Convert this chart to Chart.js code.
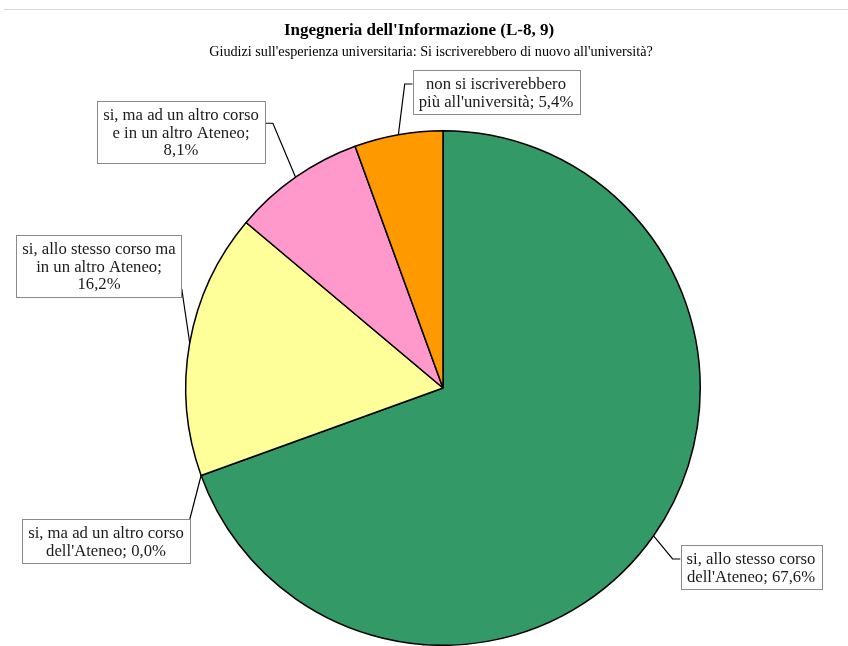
<!DOCTYPE html>
<html>
<head>
<meta charset="utf-8">
<script src="https://cdn.jsdelivr.net/npm/chart.js@4.4.0/dist/chart.umd.min.js"></script>
<style>
  html, body { margin: 0; padding: 0; background: #fff; }
  #wrap { width: 848px; height: 646px; position: relative; }
</style>
</head>
<body>
<div id="wrap"><canvas id="myChart" width="848" height="646"></canvas></div>
<script>
// chart data
const titleText = "Ingegneria dell'Informazione (L-8, 9)";
const subtitleText = "Giudizi sull'esperienza universitaria: Si iscriverebbero di nuovo all'università?";
const categories = [
  ["si, allo stesso corso", "dell'Ateneo;"],
  ["si, ma ad un altro corso", "dell'Ateneo;"],
  ["si, allo stesso corso ma", "in un altro Ateneo;"],
  ["si, ma ad un altro corso", "e in un altro Ateneo;"],
  ["non si iscriverebbero", "più all'università;"]
];
const percentages = [67.6, 0.0, 16.2, 8.1, 5.4];
const sliceColors = ["#339966", "#3366ff", "#ffff99", "#ff99cc", "#ff9900"];

// where each label box sits (center) and how the leader reaches it
const labelLayout = [
  { cx: 751, cy: 567, side: "left", elbow: 8 },
  { cx: 106, cy: 541, side: "topright", elbow: 0 },
  { cx: 99, cy: 266, side: "right-bottom", elbow: 0 },
  { cx: 181, cy: 132, side: "right", elbow: 8 },
  { cx: 496, cy: 92, side: "left", elbow: 8 }
];

function fmt(v) {
  return v.toFixed(1).replace(".", ",") + "%";
}

// build the text lines for one label (joins value to last line when it fits, like Excel)
function labelLines(i) {
  const lines = categories[i].slice();
  if (i === 2 || i === 3) {
    lines.push(fmt(percentages[i]));
  } else {
    lines[lines.length - 1] = lines[lines.length - 1] + " " + fmt(percentages[i]);
  }
  return lines;
}

const labelPlugin = {
  id: "boxLabels",
  afterDraw(chart) {
    const ctx = chart.ctx;
    ctx.save();

    // titles
    ctx.fillStyle = "#000";
    ctx.textAlign = "center";
    ctx.textBaseline = "middle";
    ctx.font = "bold 17px 'Liberation Serif'";
    ctx.fillText(titleText, 419, 31);
    ctx.font = "14.2px 'Liberation Serif'";
    ctx.fillText(subtitleText, 431, 52);

    // top separator line of the page
    ctx.strokeStyle = "#d8d8d8";
    ctx.lineWidth = 1;
    ctx.beginPath();
    ctx.moveTo(4, 9.5);
    ctx.lineTo(848, 9.5);
    ctx.stroke();

    const arcs = chart.getDatasetMeta(0).data;
    const lineH = 17.5;
    ctx.font = "16.7px 'Liberation Serif'";
    arcs.forEach((arc, i) => {
      const p = arc.getProps(["x", "y", "startAngle", "endAngle", "outerRadius"], true);
      const mid = (p.startAngle + p.endAngle) / 2;
      const ax = p.x + Math.cos(mid) * p.outerRadius;
      const ay = p.y + Math.sin(mid) * p.outerRadius;

      const lines = labelLines(i);
      const w = Math.max(...lines.map(l => ctx.measureText(l).width)) + 12;
      const h = lines.length * lineH + 9;
      const L = labelLayout[i];
      const bx = L.cx - w / 2, by = L.cy - h / 2;

      // leader line
      let tx, ty;
      if (L.side === "left") { tx = bx; ty = L.cy - 8; }
      else if (L.side === "right") { tx = bx + w; ty = by + 22; }
      else if (L.side === "topright") { tx = bx + w; ty = by; }
      else { tx = bx + w; ty = by + h - 8; }
      ctx.strokeStyle = "#000";
      ctx.lineWidth = 1.2;
      ctx.beginPath();
      ctx.moveTo(ax, ay);
      if (L.elbow) {
        const ex = L.side === "left" ? tx - L.elbow : tx + L.elbow;
        ctx.lineTo(ex, ty);
      }
      ctx.lineTo(tx, ty);
      ctx.stroke();

      // box
      ctx.fillStyle = "#fff";
      ctx.fillRect(bx, by, w, h);
      ctx.strokeStyle = "#8a8a8a";
      ctx.lineWidth = 1;
      ctx.strokeRect(Math.round(bx) + 0.5, Math.round(by) + 0.5, Math.round(w), Math.round(h));

      ctx.fillStyle = "#1a1a1a";
      ctx.textAlign = "center";
      ctx.textBaseline = "middle";
      lines.forEach((l, k) => {
        ctx.fillText(l, L.cx, by + 5 + lineH * (k + 0.5) + 1);
      });
    });
    ctx.restore();
  }
};

const ctx = document.getElementById("myChart").getContext("2d");
const myChart = new Chart(ctx, {
  type: "pie",
  data: {
    labels: categories.map(c => c.join(" ")),
    datasets: [{
      data: percentages,
      backgroundColor: sliceColors,
      borderColor: "#000",
      borderWidth: 1.5
    }]
  },
  options: {
    responsive: false,
    animation: false,
    layout: { padding: { top: 130, left: 38, right: 0, bottom: 0 } },
    plugins: {
      legend: { display: false },
      tooltip: { enabled: false },
      title: { display: false }
    }
  },
  plugins: [labelPlugin]
});
</script>
</body>
</html>
